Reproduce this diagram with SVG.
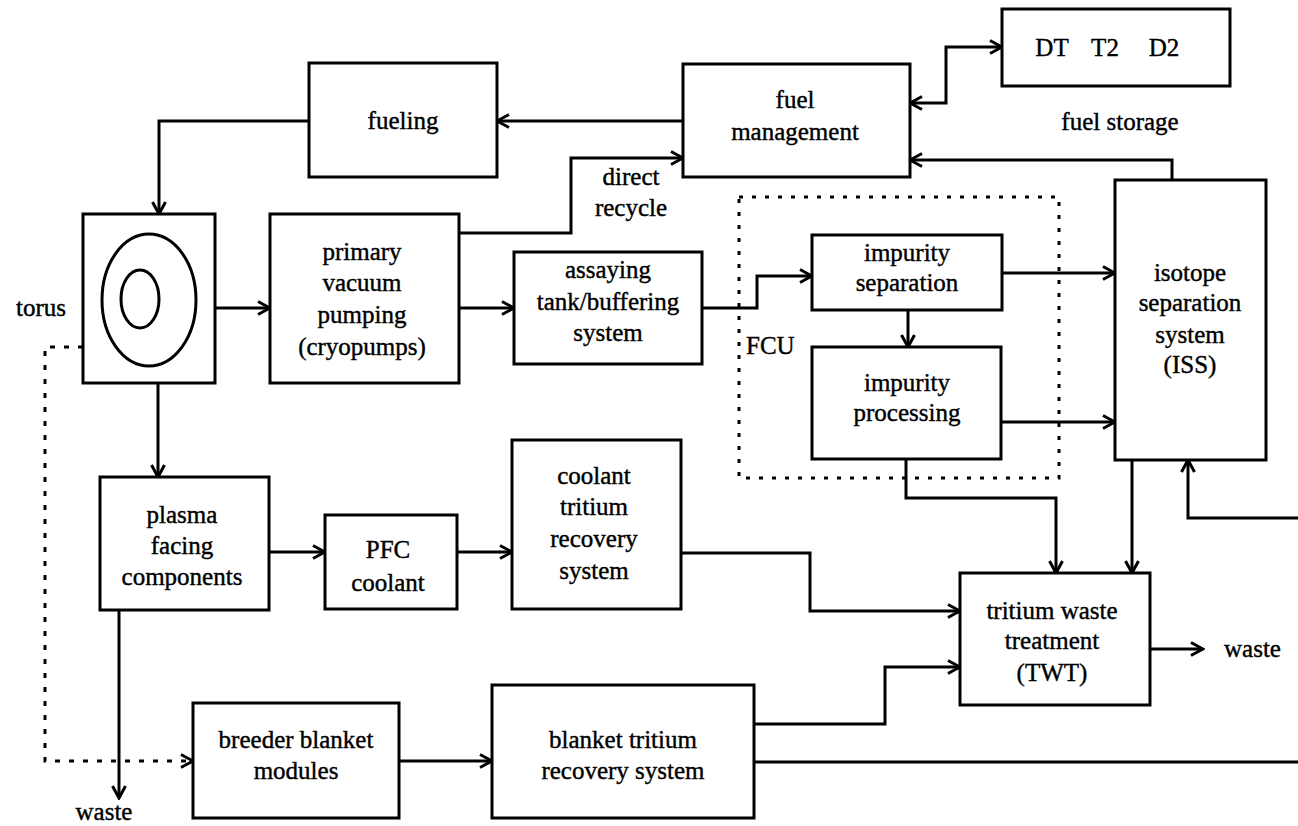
<svg xmlns="http://www.w3.org/2000/svg" width="1298" height="826" viewBox="0 0 1298 826">
<style>
.box{fill:#fff;stroke:#000;stroke-width:3}
.ln{fill:none;stroke:#000;stroke-width:3}
.dash{fill:none;stroke:#000;stroke-width:3;stroke-dasharray:5 9}
.dot{fill:none;stroke:#000;stroke-width:3;stroke-dasharray:4 9}
.t{font-size:25px;fill:#000;stroke:#000;stroke-width:0.4;text-anchor:middle}
.st{text-anchor:start}
</style>
<defs>
<marker id="arr" viewBox="0 0 16 16" refX="14" refY="8" markerWidth="16" markerHeight="16" orient="auto-start-reverse" markerUnits="userSpaceOnUse">
<path d="M2,1.5 L14,8 L2,14.5" fill="none" stroke="#000" stroke-width="3"/>
</marker>
</defs>
<g id="connectors">
<path class="ln" d="M683,121 L497,121" marker-end="url(#arr)"/>
<path class="ln" d="M910,103 L946,103 L946,47 L1002,47" marker-start="url(#arr)" marker-end="url(#arr)"/>
<path class="ln" d="M1172,180 L1172,160 L910,160" marker-end="url(#arr)"/>
<path class="ln" d="M459,233 L571,233 L571,158 L683,158" marker-end="url(#arr)"/>
<path class="ln" d="M309,121 L159,121 L159,214" marker-end="url(#arr)"/>
<path class="ln" d="M215,308 L270,308" marker-end="url(#arr)"/>
<path class="ln" d="M459,308 L514,308" marker-end="url(#arr)"/>
<path class="ln" d="M702,308 L757,308 L757,276 L812,276" marker-end="url(#arr)"/>
<path class="ln" d="M1002,273 L1115,273" marker-end="url(#arr)"/>
<path class="ln" d="M908,310 L908,347" marker-end="url(#arr)"/>
<path class="ln" d="M1001,422 L1115,422" marker-end="url(#arr)"/>
<path class="ln" d="M906,459 L906,498 L1056,498 L1056,573" marker-end="url(#arr)"/>
<path class="ln" d="M1132,460 L1132,573" marker-end="url(#arr)"/>
<path class="ln" d="M1298,518 L1188,518 L1188,460" marker-end="url(#arr)"/>
<path class="ln" d="M1150,649 L1203,649" marker-end="url(#arr)"/>
<path class="ln" d="M681,553 L810,553 L810,611 L960,611" marker-end="url(#arr)"/>
<path class="ln" d="M754,724 L885,724 L885,667 L960,667" marker-end="url(#arr)"/>
<path class="ln" d="M754,762 L1298,762"/>
<path class="ln" d="M158,383 L158,477" marker-end="url(#arr)"/>
<path class="ln" d="M269,552 L325,552" marker-end="url(#arr)"/>
<path class="ln" d="M457,552 L512,552" marker-end="url(#arr)"/>
<path class="ln" d="M119,610 L119,798" marker-end="url(#arr)"/>
<path class="dash" d="M83,347 L45,347 L45,761 L193,761" marker-end="url(#arr)"/>
<path class="ln" d="M399,761 L492,761" marker-end="url(#arr)"/>
</g>
<g font-family="'Liberation Serif', 'DejaVu Serif', serif">
<g id="fcu">
<rect class="dot" x="739" y="197" width="320" height="281"/>
<text class="t st" x="746" y="354">FCU</text>
</g>
<g id="fuel-storage">
<rect class="box" x="1002" y="9" width="228" height="77"/>
<text class="t" x="1052" y="56">DT</text>
<text class="t" x="1105" y="56">T2</text>
<text class="t" x="1164" y="56">D2</text>
<text class="t" x="1120" y="130">fuel storage</text>
</g>
<g id="fuel-management">
<rect class="box" x="683" y="64" width="227" height="113"/>
<text class="t" x="795" y="108">fuel</text>
<text class="t" x="795" y="140">management</text>
</g>
<g id="fueling">
<rect class="box" x="309" y="63" width="188" height="114"/>
<text class="t" x="403" y="129">fueling</text>
</g>
<g id="torus">
<rect class="box" x="83" y="214" width="132" height="169"/>
<ellipse cx="149" cy="300" rx="47" ry="66" fill="none" stroke="#000" stroke-width="3"/>
<ellipse cx="140" cy="299" rx="19" ry="29" fill="none" stroke="#000" stroke-width="3"/>
<text class="t" x="41" y="316">torus</text>
</g>
<g id="primary-vacuum">
<rect class="box" x="270" y="214" width="189" height="169"/>
<text class="t" x="362" y="260">primary</text>
<text class="t" x="362" y="291">vacuum</text>
<text class="t" x="362" y="323">pumping</text>
<text class="t" x="362" y="355">(cryopumps)</text>
</g>
<g id="direct-recycle">
<text class="t" x="631" y="185">direct</text>
<text class="t" x="631" y="216">recycle</text>
</g>
<g id="assaying">
<rect class="box" x="514" y="252" width="188" height="112"/>
<text class="t" x="608" y="278">assaying</text>
<text class="t" x="608" y="310">tank/buffering</text>
<text class="t" x="608" y="341">system</text>
</g>
<g id="impurity-separation">
<rect class="box" x="812" y="235" width="190" height="75"/>
<text class="t" x="907" y="261">impurity</text>
<text class="t" x="907" y="291">separation</text>
</g>
<g id="impurity-processing">
<rect class="box" x="812" y="347" width="189" height="112"/>
<text class="t" x="907" y="391">impurity</text>
<text class="t" x="907" y="421">processing</text>
</g>
<g id="iss">
<rect class="box" x="1115" y="180" width="151" height="280"/>
<text class="t" x="1190" y="281">isotope</text>
<text class="t" x="1190" y="311">separation</text>
<text class="t" x="1190" y="343">system</text>
<text class="t" x="1190" y="373">(ISS)</text>
</g>
<g id="plasma-facing">
<rect class="box" x="100" y="477" width="169" height="133"/>
<text class="t" x="182" y="523">plasma</text>
<text class="t" x="182" y="554">facing</text>
<text class="t" x="182" y="585">components</text>
</g>
<g id="pfc-coolant">
<rect class="box" x="325" y="515" width="132" height="94"/>
<text class="t" x="388" y="558">PFC</text>
<text class="t" x="388" y="591">coolant</text>
</g>
<g id="coolant-tritium">
<rect class="box" x="512" y="440" width="169" height="169"/>
<text class="t" x="594" y="484">coolant</text>
<text class="t" x="594" y="515">tritium</text>
<text class="t" x="594" y="547">recovery</text>
<text class="t" x="594" y="579">system</text>
</g>
<g id="twt">
<rect class="box" x="960" y="573" width="190" height="132"/>
<text class="t" x="1052" y="619">tritium waste</text>
<text class="t" x="1052" y="649">treatment</text>
<text class="t" x="1052" y="681">(TWT)</text>
</g>
<g id="waste-right">
<text class="t st" x="1224" y="657">waste</text>
</g>
<g id="waste-bottom">
<text class="t" x="104" y="820">waste</text>
</g>
<g id="breeder">
<rect class="box" x="193" y="703" width="206" height="115"/>
<text class="t" x="296" y="748">breeder blanket</text>
<text class="t" x="296" y="779">modules</text>
</g>
<g id="blanket-tritium">
<rect class="box" x="492" y="685" width="262" height="133"/>
<text class="t" x="623" y="748">blanket tritium</text>
<text class="t" x="623" y="779">recovery system</text>
</g>
</g>
</svg>
